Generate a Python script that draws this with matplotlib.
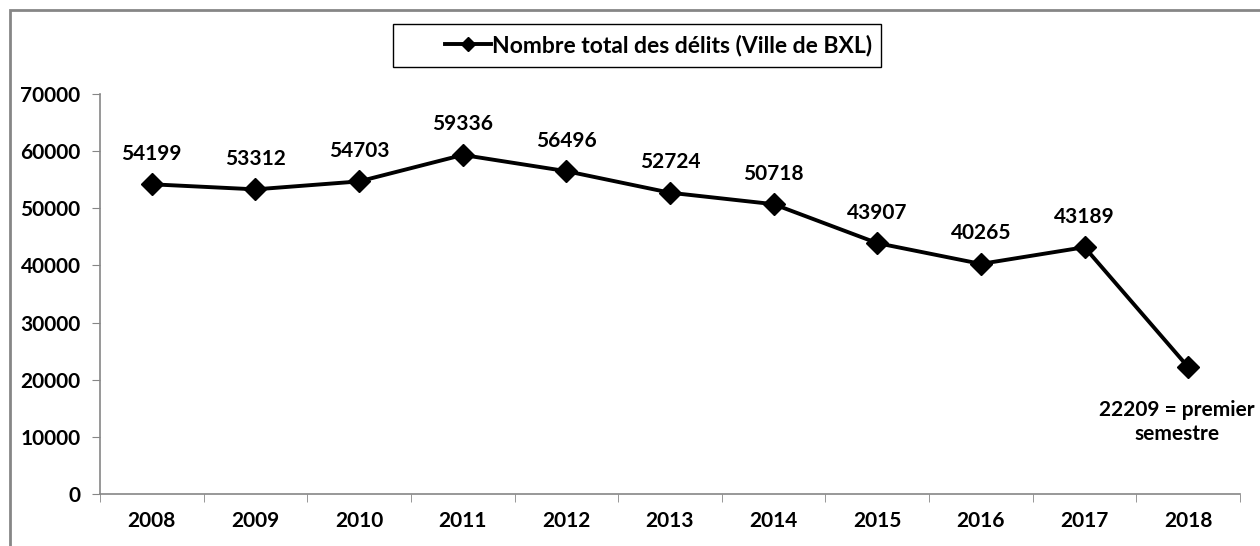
import matplotlib
matplotlib.use("Agg")
import matplotlib.pyplot as plt
from matplotlib.patches import Rectangle

years = ["2008", "2009", "2010", "2011", "2012", "2013", "2014", "2015", "2016", "2017", "2018"]
delits = [54199, 53312, 54703, 59336, 56496, 52724, 50718, 43907, 40265, 43189, 22209]
series_name = "Nombre total des délits (Ville de BXL)"
last_note = "= premier\nsemestre"

plt.rcParams['font.family'] = ['Lato', 'DejaVu Sans']
plt.rcParams['font.weight'] = 'bold'
fs = 15

fig = plt.figure(figsize=(12.6, 5.46), dpi=100)
ax = fig.add_axes([100 / 1260, 1 - 494 / 546, 1140 / 1260, 400 / 546])

# chart area border (cut off at right/bottom like the original)
fig.patches.append(Rectangle((9.5 / 1260, -0.1), 1.2, 1.1 - 10.5 / 546,
                             transform=fig.transFigure, fill=False,
                             edgecolor='#868686', linewidth=2.0))
# legend box
fig.patches.append(Rectangle((393 / 1260, 1 - 67 / 546), 488 / 1260, 43 / 546,
                             transform=fig.transFigure, fill=False,
                             edgecolor='black', linewidth=1.0))

x = list(range(len(years)))
ax.plot(x, delits, color='black', linewidth=2.8, marker='D', markersize=11,
        label=series_name)

for i, v in enumerate(delits):
    if i == len(delits) - 1:
        ax.annotate(f"{v} {last_note}", (i, v), xytext=(-8, -24),
                    textcoords='offset points', ha='center', va='top',
                    fontsize=fs, fontweight='bold', linespacing=1.2)
    else:
        ax.annotate(str(v), (i, v), xytext=(0, 22), textcoords='offset points',
                    ha='center', va='center', fontsize=fs, fontweight='bold')

ax.set_xlim(-0.5, len(years) - 0.5)
ax.set_ylim(0, 70000)
ax.set_yticks(range(0, 70001, 10000))
ax.set_yticklabels([str(t) for t in range(0, 70001, 10000)], fontsize=fs, fontweight='bold')
ax.set_xticks(x)
ax.set_xticklabels(years, fontsize=fs, fontweight='bold')
ax.set_xticks([i - 0.5 for i in range(len(years) + 1)], minor=True)
ax.tick_params(axis='x', which='major', length=0, pad=12)
ax.tick_params(axis='x', which='minor', length=6, color='#868686', direction='out')
ax.tick_params(axis='y', length=6, color='#868686', pad=8)

for s in ['top', 'right']:
    ax.spines[s].set_visible(False)
for s in ['left', 'bottom']:
    ax.spines[s].set_color('#868686')
    ax.spines[s].set_linewidth(1.2)

leg = ax.legend(loc='center', bbox_to_anchor=(659 / 1260, 1 - 45.5 / 546),
                bbox_transform=fig.transFigure, frameon=False,
                handlelength=2.0, handletextpad=0.05,
                prop={'weight': 'bold', 'size': 16.5})
for h in leg.legend_handles:
    h.set_markersize(7)

fig.savefig("out.png", dpi=100)
